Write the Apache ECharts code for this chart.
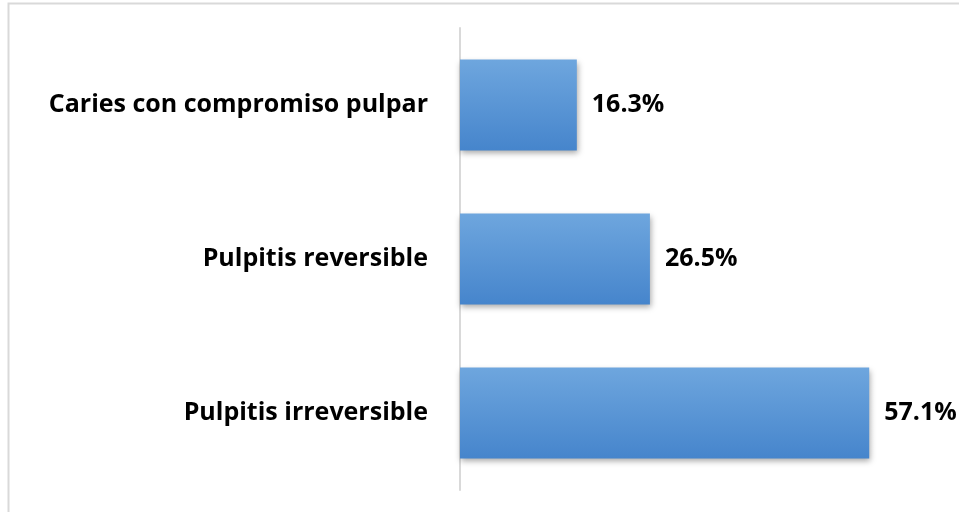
<!DOCTYPE html>
<html>
<head>
<meta charset="utf-8">
<script src="https://cdn.jsdelivr.net/npm/echarts@6/dist/echarts.min.js"></script>
<style>
  html, body { margin: 0; padding: 0; background: #fff; }
  #chart { width: 959px; height: 512px; }
</style>
</head>
<body>
<div id="chart"></div>
<script>
var categories = ['Pulpitis irreversible', 'Pulpitis reversible', 'Caries con compromiso pulpar'];
var values = [57.1, 26.5, 16.3];

var barColor = new echarts.graphic.LinearGradient(0, 0, 0, 1, [
    {offset: 0, color: '#6ea6de'},
    {offset: 1, color: '#4685cc'}
]);

var option = {
    backgroundColor: '#fff',
    animation: false,
    graphic: [
        {
            type: 'rect',
            shape: {x: 8.5, y: 3.5, width: 1000, height: 600},
            style: {fill: 'none', stroke: '#d9d9d9', lineWidth: 2},
            silent: true
        }
    ],
    grid: {left: 460, top: 28, width: 430, height: 462},
    xAxis: {
        type: 'value',
        min: 0,
        max: 60,
        show: false
    },
    yAxis: {
        type: 'category',
        data: categories,
        axisLine: {lineStyle: {color: '#d9d9d9', width: 2}},
        axisTick: {show: false},
        axisLabel: {
            margin: 32,
            color: '#000',
            fontFamily: 'Open Sans',
            fontWeight: 'bold',
            fontSize: 25
        }
    },
    series: [
        {
            type: 'bar',
            data: values,
            barCategoryGap: '41%',
            itemStyle: {
                color: barColor,
                shadowColor: 'rgba(0,0,0,0.35)',
                shadowBlur: 6,
                shadowOffsetX: 1,
                shadowOffsetY: 3
            },
            label: {
                show: true,
                position: 'right',
                distance: 15,
                color: '#000',
                fontFamily: 'Open Sans',
                fontWeight: 'bold',
                fontSize: 25,
                formatter: function (p) { return p.value.toFixed(1) + '%'; }
            }
        }
    ]
};

var myChart = echarts.init(document.getElementById('chart'));
myChart.setOption(option);
</script>
</body>
</html>
